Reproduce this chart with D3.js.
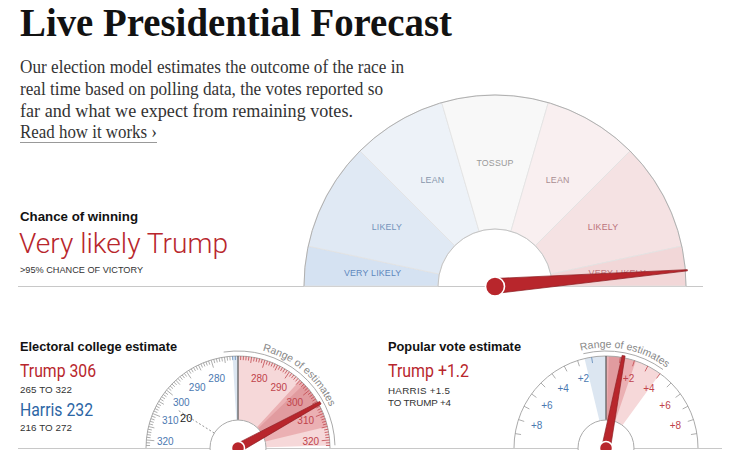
<!DOCTYPE html>
<html><head><meta charset="utf-8">
<script src="https://cdn.jsdelivr.net/npm/d3@7"></script>
<style>body{margin:0;background:#fff}svg{display:block}</style>
</head><body><svg id="c" width="740" height="450"></svg>
<script>
// ---------------- data ----------------
const titleText = "Live Presidential Forecast";
const introLines = [
  "Our election model estimates the outcome of the race in",
  "real time based on polling data, the votes reported so",
  "far and what we expect from remaining votes.",
  "Read how it works \u203A"
];
const zoneLabels = ["VERY LIKELY","LIKELY","LEAN","TOSSUP","LEAN","LIKELY","VERY LIKELY"];
const zoneBreaks = [0, 0.067, 0.25, 0.41, 0.59, 0.75, 0.933, 1];   // Trump win probability
const zoneParty  = ["D","D","D","T","R","R","R"];
const trumpWinProb = 0.974;
const chanceTitle = "Chance of winning";
const chanceHeadline = "Very likely Trump";
const chanceSub = ">95% CHANCE OF VICTORY";

const evTitle = "Electoral college estimate";
const evThreshold = 270;
const evTrump = 306, evTrumpRange = [265, 322];
const evHarris = 232, evHarrisRange = [216, 272];
const evInnerBand = [295, 315];
const evCoreBand  = [297, 307];
const evTickLabels = [280, 290, 300, 310, 320];
const evPriorHarris = 304, evPriorLabel = "20";

const pvTitle = "Popular vote estimate";
const pvTrump = 1.2;
const pvRange = [-1.5, 4];        // negative = Harris margin
const pvInnerBand = [0, 2.1];
const pvCoreBand  = [0.2, 1.3];
const pvTickLabels = [2, 4, 6, 8];
const pvRangeText = ["HARRIS +1.5", "TO TRUMP +4"];

// ---------------- styles ----------------
const RED = "#b8262c", BLUE = "#2c66a5";
const zoneFills = ["#d5e2f2","#e0e9f4","#edf2f8","#f8f8f8","#f9eff0","#f5e2e3","#f2d7d8"];
const zoneTextCols = ["#5f88bd","#7393bb","#8797ad","#9a9a9a","#a98e92","#bb737b","#bd7880"];
const SANS = "'Liberation Sans', Arial, sans-serif";
const SERIF = "'Liberation Serif', 'Times New Roman', serif";
const deg = Math.PI / 180;

const svg = d3.select("#c");

function polar(r, a) { return [r * Math.sin(a * deg), -r * Math.cos(a * deg)]; }
function arcLine(r, a0, a1) {
  const p0 = polar(r, a0), p1 = polar(r, a1);
  return `M${p0[0]},${p0[1]}A${r},${r} 0 ${Math.abs(a1 - a0) > 180 ? 1 : 0} 1 ${p1[0]},${p1[1]}`;
}
function needlePath(len, w0, w1) {
  return d3.line()([[-w0, 0], [-w1, -len], [w1, -len], [w0, 0]]) + "Z";
}
const arcGen = d3.arc();
function wedge(r0, r1, a0, a1) {
  return arcGen({innerRadius: r0, outerRadius: r1, startAngle: a0 * deg, endAngle: a1 * deg});
}

// ---------------- header ----------------
svg.append("text").attr("x", 20).attr("y", 36)
  .attr("font-family", SERIF).attr("font-weight", "bold").attr("font-size", 40)
  .attr("fill", "#121212").attr("textLength", 432).attr("lengthAdjust", "spacingAndGlyphs")
  .text(titleText);

const introW = [384, 363, 333, 137];
const introY = [73, 95, 117, 138];
svg.selectAll("text.intro").data(introLines).join("text").attr("class", "intro")
  .attr("x", 20).attr("y", (d, i) => introY[i])
  .attr("font-family", SERIF).attr("font-size", 18.5).attr("fill", "#333")
  .attr("textLength", (d, i) => introW[i]).attr("lengthAdjust", "spacingAndGlyphs")
  .text(d => d);
svg.append("line").attr("x1", 20).attr("x2", 157).attr("y1", 142.5).attr("y2", 142.5)
  .attr("stroke", "#999").attr("stroke-width", 1);

// ---------------- chance of winning text ----------------
svg.append("text").attr("x", 20).attr("y", 221).attr("font-family", SANS).attr("font-weight", "bold")
  .attr("font-size", 13.5).attr("fill", "#121212").attr("textLength", 118).attr("lengthAdjust", "spacingAndGlyphs")
  .text(chanceTitle);
svg.append("text").attr("x", 19).attr("y", 253).attr("font-family", "Roboto, " + SANS).attr("font-weight", 300)
  .attr("font-size", 27).attr("fill", RED).attr("textLength", 209).attr("lengthAdjust", "spacingAndGlyphs")
  .text(chanceHeadline);
svg.append("text").attr("x", 20).attr("y", 272.5).attr("font-family", SANS)
  .attr("font-size", 9).attr("fill", "#333").attr("textLength", 123).attr("lengthAdjust", "spacingAndGlyphs")
  .text(chanceSub);

// baseline under main gauge
svg.append("line").attr("x1", 18).attr("x2", 703).attr("y1", 286.5).attr("y2", 286.5)
  .attr("stroke", "#c8c8c8").attr("stroke-width", 1.2);

// ---------------- main gauge ----------------
const M = {cx: 495, cy: 286, r0: 57, r1: 191, rl: 123};
const pAngle = d3.scaleLinear().domain([0, 1]).range([-90, 90]);
const zones = zoneLabels.map((l, i) => ({label: l, p0: zoneBreaks[i], p1: zoneBreaks[i + 1], party: zoneParty[i], fill: zoneFills[i], tc: zoneTextCols[i]}));
const gm = svg.append("g").attr("transform", `translate(${M.cx},${M.cy})`);
gm.selectAll("path.zone").data(zones).join("path").attr("class", "zone")
  .attr("d", d => wedge(M.r0, M.r1, pAngle(d.p0), pAngle(d.p1)))
  .attr("fill", d => d.fill).attr("stroke", "#e2e2e2").attr("stroke-width", 0.8);
gm.append("path").attr("d", arcLine(M.r1, -90, 90)).attr("fill", "none").attr("stroke", "#b0b0b0").attr("stroke-width", 1);
gm.append("path").attr("d", arcLine(M.r0, -90, 90)).attr("fill", "none").attr("stroke", "#c4c4c4").attr("stroke-width", 1);
gm.selectAll("text.zl").data(zones).join("text").attr("class", "zl")
  .attr("x", d => polar(M.rl, pAngle((d.p0 + d.p1) / 2))[0])
  .attr("y", d => polar(M.rl, pAngle((d.p0 + d.p1) / 2))[1])
  .attr("dy", "0.35em").attr("text-anchor", "middle")
  .attr("font-family", SANS).attr("font-size", 8.8).attr("letter-spacing", 0.2)
  .attr("fill", d => d.tc).text(d => d.label);
gm.append("path").attr("d", needlePath(M.r1 + 2, 7.5, 0.6))
  .attr("transform", `rotate(${pAngle(trumpWinProb)})`)
  .attr("fill", RED).attr("stroke", "#8a1a1f").attr("stroke-width", 0.7);
gm.append("circle").attr("cx", 0).attr("cy", 0.5).attr("r", 9.5)
  .attr("fill", RED).attr("stroke", "#fff").attr("stroke-width", 1.6);

// ---------------- bottom texts ----------------
svg.append("line").attr("x1", 18).attr("x2", 722).attr("y1", 448.5).attr("y2", 448.5)
  .attr("stroke", "#c8c8c8").attr("stroke-width", 1.2);

function header(x, title, tw) {
  svg.append("text").attr("x", x).attr("y", 351).attr("font-family", SANS).attr("font-weight", "bold")
    .attr("font-size", 13.5).attr("fill", "#121212").attr("textLength", tw).attr("lengthAdjust", "spacingAndGlyphs")
    .text(title);
}
function bigLine(x, y, txt, col, tw) {
  svg.append("text").attr("x", x).attr("y", y).attr("font-family", "Roboto, " + SANS).attr("font-weight", 400)
    .attr("font-size", 17.5).attr("fill", col).attr("textLength", tw).attr("lengthAdjust", "spacingAndGlyphs").text(txt);
}
function smallLine(x, y, txt, tw) {
  svg.append("text").attr("x", x).attr("y", y).attr("font-family", SANS).attr("font-size", 9.8)
    .attr("fill", "#333").attr("textLength", tw).attr("lengthAdjust", "spacing").text(txt);
}
header(20, evTitle, 157);
bigLine(20, 377, `Trump ${evTrump}`, RED, 76);
smallLine(20, 393, `${evTrumpRange[0]} TO ${evTrumpRange[1]}`, 52);
bigLine(20, 416, `Harris ${evHarris}`, BLUE, 73);
smallLine(20, 431, `${evHarrisRange[0]} TO ${evHarrisRange[1]}`, 52);

header(388, pvTitle, 133);
bigLine(388, 377, `Trump +${pvTrump}`, RED, 81);
smallLine(388, 394, pvRangeText[0], 62);
smallLine(388, 405.5, pvRangeText[1], 63);

// ---------------- small gauges ----------------
const G = {r0: 28, r1: 92, rRange: 97, rText: 100.5, rLab: 73};

function smallGauge(o) {
  const g = svg.append("g").attr("transform", `translate(${o.cx},${o.cy})`);
  const A = o.scale;
  // wedges
  g.append("path").attr("d", wedge(G.r0, G.r1, A(o.blue[0]), A(o.blue[1]))).attr("fill", "#dce6f1");
  g.append("path").attr("d", wedge(G.r0, G.r1, A(o.red[0]), A(o.red[1]))).attr("fill", "#f6d8d9");
  g.append("path").attr("d", wedge(G.r0, G.r1, A(o.mid[0]), A(o.mid[1]))).attr("fill", "#e9a9ac").attr("opacity", 0.85);
  g.append("path").attr("d", wedge(G.r0, G.r1, A(o.core[0]), A(o.core[1]))).attr("fill", "#d98a8e").attr("opacity", 0.55);
  // outer arc
  g.append("path").attr("d", arcLine(G.r1, -90, 90)).attr("fill", "none").attr("stroke", "#aaa").attr("stroke-width", 1);
  // ticks
  g.selectAll("line.tick").data(o.ticks).join("line").attr("class", "tick")
    .attr("x1", d => polar(G.r1, A(d.v))[0]).attr("y1", d => polar(G.r1, A(d.v))[1])
    .attr("x2", d => polar(G.r1 - d.len, A(d.v))[0]).attr("y2", d => polar(G.r1 - d.len, A(d.v))[1])
    .attr("stroke", d => d.v > o.center && d.v <= o.red[1] ? "#c0474e" : (d.v < o.center && d.v >= o.blue[0] ? "#5b86b8" : "#999"))
    .attr("stroke-width", 0.8);
  // labels
  g.selectAll("text.lab").data(o.labels).join("text").attr("class", "lab")
    .attr("x", d => polar(G.rLab, A(d.v))[0]).attr("y", d => polar(G.rLab, A(d.v))[1])
    .attr("dy", "0.35em").attr("text-anchor", "middle").attr("font-family", SANS).attr("font-size", 10)
    .attr("fill", d => d.side === "R" ? "#c0434b" : "#4b79b1").text(d => d.text);
  // center line
  g.append("line").attr("x1", 0).attr("x2", 0).attr("y1", -G.r0).attr("y2", -G.r1)
    .attr("stroke", "#555").attr("stroke-width", 1.2);
  // inner circle
  g.append("circle").attr("r", G.r0).attr("fill", "#fff").attr("stroke", "#aaa").attr("stroke-width", 1);
  // range arc + text
  g.append("path").attr("d", arcLine(G.rRange, A(o.range[0]), A(o.range[1])))
    .attr("fill", "none").attr("stroke", "#aaa").attr("stroke-width", 1);
  g.append("path").attr("id", o.id + "tp").attr("d", arcLine(G.rText, A(o.range[0]), A(o.range[1]))).attr("fill", "none");
  g.append("text").attr("font-family", SANS).attr("font-size", 10.5).attr("fill", "#888")
    .append("textPath").attr("href", "#" + o.id + "tp").attr("startOffset", "50%").attr("text-anchor", "middle")
    .text("Range of estimates");
  if (o.extra) o.extra(g);
  // needle
  g.append("path").attr("d", needlePath(G.r1 + 2, 4.4, 1.5)).attr("transform", `rotate(${A(o.value)})`)
    .attr("fill", RED).attr("stroke", "#8a1a1f").attr("stroke-width", 0.6);
  g.append("circle").attr("r", 6.5).attr("fill", RED).attr("stroke", "#fff").attr("stroke-width", 1.5);
}

// Electoral college: Trump EV on the right, Harris EV mirrored on the left
const evScale = d3.scaleLinear().domain([evThreshold - 90 / 1.7, evThreshold + 90 / 1.7]).range([-90, 90]);
const mirror = h => 2 * evThreshold - h;
const evTicks = d3.range(1, 53).flatMap(k => [
  {v: evThreshold + k, len: k % 10 === 0 ? 8 : (k % 5 === 0 ? 6 : 4)},
  {v: evThreshold - k, len: k % 10 === 0 ? 8 : (k % 5 === 0 ? 6 : 4)}
]);
smallGauge({
  id: "ev", cx: 238, cy: 448, scale: evScale, center: evThreshold, value: evTrump,
  blue: [mirror(evHarrisRange[1]), evThreshold], red: [evThreshold, evTrumpRange[1]],
  mid: evInnerBand, core: evCoreBand, range: evTrumpRange, ticks: evTicks,
  labels: evTickLabels.flatMap(v => [{v: v, text: v, side: "R"}, {v: mirror(v), text: v, side: "D"}]),
  extra: g => {
    const a = evScale(mirror(evPriorHarris));
    g.append("line").attr("x1", polar(G.r0, a)[0]).attr("y1", polar(G.r0, a)[1])
      .attr("x2", polar(70, a)[0]).attr("y2", polar(70, a)[1])
      .attr("stroke", "#888").attr("stroke-width", 0.9).attr("stroke-dasharray", "2,2");
    g.append("text").attr("x", polar(60, a - 2)[0]).attr("y", polar(60, a - 2)[1]).attr("dy", "0.35em")
      .attr("text-anchor", "middle").attr("font-family", SANS).attr("font-size", 11).attr("fill", "#222")
      .text(evPriorLabel);
  }
});

// Popular vote: Trump margin positive (right), Harris margin negative (left)
const pvScale = d3.scaleLinear().domain([-10, 10]).range([-90, 90]);
const pvTicks = d3.range(1, 10).flatMap(k => [{v: k, len: 6}, {v: -k, len: 6}]);
smallGauge({
  id: "pv", cx: 606, cy: 448, scale: pvScale, center: 0, value: pvTrump,
  blue: [pvRange[0], 0], red: [0, pvRange[1]],
  mid: pvInnerBand, core: pvCoreBand, range: pvRange, ticks: pvTicks,
  labels: pvTickLabels.flatMap(v => [{v: v, text: "+" + v, side: "R"}, {v: -v, text: "+" + v, side: "D"}])
});
</script>
</body></html>
